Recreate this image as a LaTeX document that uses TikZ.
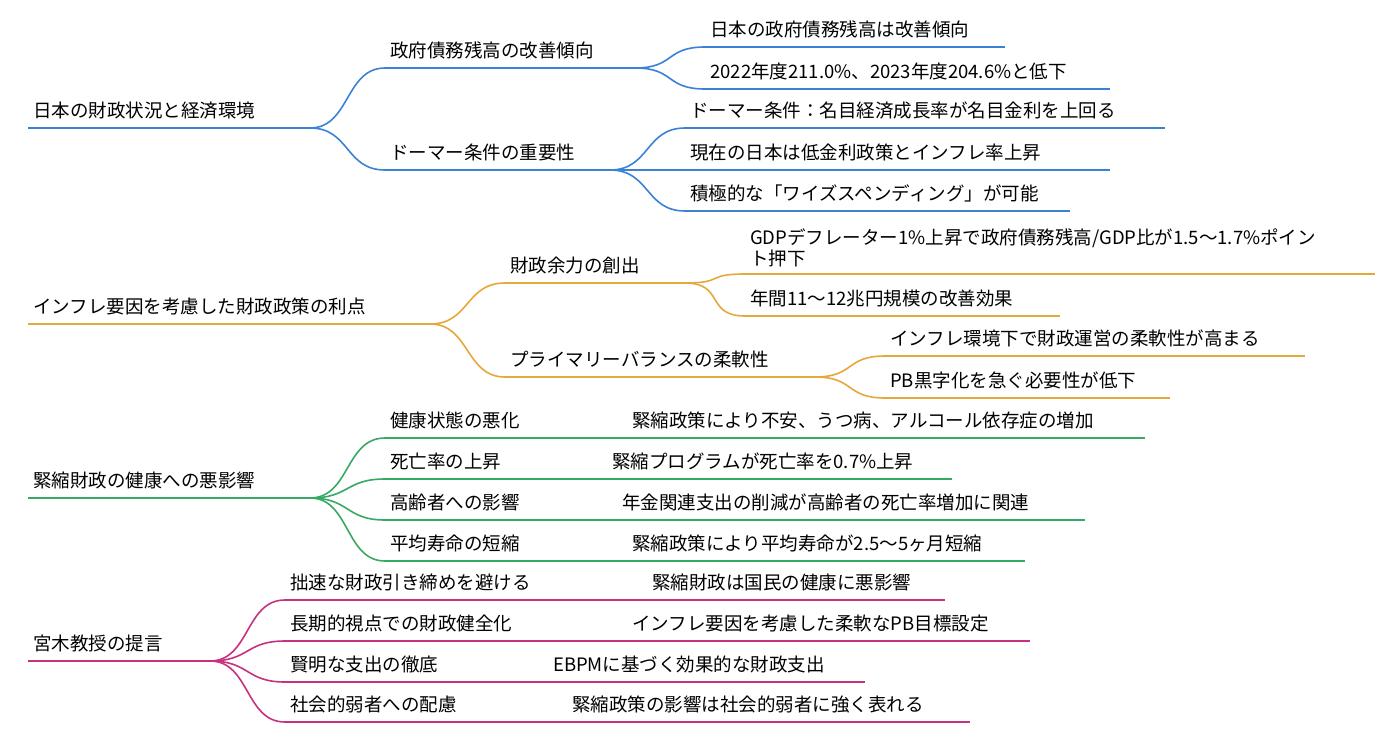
\documentclass[tikz,border=0pt]{standalone}
\usepackage{fontspec}
\setmainfont{Noto Sans CJK JP}
\definecolor{cb}{HTML}{3B82D6}
\definecolor{co}{HTML}{E6A83A}
\definecolor{cg}{HTML}{38A965}
\definecolor{cmag}{HTML}{C8317E}
\tikzset{ul/.style={line width=1.6pt},txt/.style={anchor=south west,inner sep=0pt,font=\fontsize{18.5}{21}\selectfont,text=black},
lk/.style={line width=1.6pt}}
\newcommand{\mmrow}[6]{%
 \coordinate (#1-l) at (#2,#4); \coordinate (#1-r) at (#3,#4);
 \draw[ul,#5] (#1-l) -- (#1-r);
 \node[txt] (#1-t) at (#2+5,#4-9) {#6};}
\newcommand{\mmlink}[3]{\draw[lk,#3] (#1-r) .. controls +(40,0) and +(-40,0) .. (#2-l);}
\begin{document}
\begin{tikzpicture}[x=1pt,y=-1pt]
\fill[white] (0,0) rectangle (1387,736);
\useasboundingbox (0,0) rectangle (1387,736);
% branch 1
\mmrow{a}{28}{310}{128}{cb}{日本の財政状況と経済環境}
\mmrow{a1}{385}{635}{68}{cb}{政府債務残高の改善傾向}
\mmrow{a2}{385}{610}{170}{cb}{ドーマー条件の重要性}
\mmrow{a11}{705}{1005}{47}{cb}{日本の政府債務残高は改善傾向}
\mmrow{a12}{705}{1110}{89}{cb}{2022年度211.0\%、2023年度204.6\%と低下}
\mmrow{a21}{685}{1165}{128}{cb}{ドーマー条件：名目経済成長率が名目金利を上回る}
\mmrow{a22}{685}{1110}{170}{cb}{現在の日本は低金利政策とインフレ率上昇}
\mmrow{a23}{685}{1070}{211}{cb}{積極的な「ワイズスペンディング」が可能}
\mmlink{a}{a1}{cb}\mmlink{a}{a2}{cb}
\mmlink{a1}{a11}{cb}\mmlink{a1}{a12}{cb}
\mmlink{a2}{a21}{cb}\mmlink{a2}{a22}{cb}\mmlink{a2}{a23}{cb}
% branch 2
\mmrow{b}{28}{430}{324}{co}{インフレ要因を考慮した財政政策の利点}
\mmrow{b1}{505}{685}{283}{co}{財政余力の創出}
\mmrow{b2}{505}{815}{377}{co}{プライマリーバランスの柔軟性}
\coordinate (b11-l) at (745,274); \coordinate (b11-r) at (1375,274);
\draw[ul,co] (b11-l) -- (b11-r);
\node[txt,align=left] (b11-t) at (750,267) {GDPデフレーター1\%上昇で政府債務残高/GDP比が1.5〜1.7\%ポイン\\ト押下};
\mmrow{b12}{745}{1060}{316}{co}{年間11〜12兆円規模の改善効果}
\mmrow{b21}{885}{1305}{356}{co}{インフレ環境下で財政運営の柔軟性が高まる}
\mmrow{b22}{885}{1170}{398}{co}{PB黒字化を急ぐ必要性が低下}
\mmlink{b}{b1}{co}\mmlink{b}{b2}{co}
\mmlink{b1}{b11}{co}\mmlink{b1}{b12}{co}
\mmlink{b2}{b21}{co}\mmlink{b2}{b22}{co}
% branch 3
\mmrow{c}{28}{310}{498}{cg}{緊縮財政の健康への悪影響}
\mmrow{c1}{385}{1145}{438}{cg}{健康状態の悪化}
\mmrow{c2}{385}{952}{479}{cg}{死亡率の上昇}
\mmrow{c3}{385}{1085}{520}{cg}{高齢者への影響}
\mmrow{c4}{385}{1025}{561}{cg}{平均寿命の短縮}
\node[txt] (c1x) at (632,429) {緊縮政策により不安、うつ病、アルコール依存症の増加};
\node[txt] (c2x) at (612,470) {緊縮プログラムが死亡率を0.7\%上昇};
\node[txt] (c3x) at (622,511) {年金関連支出の削減が高齢者の死亡率増加に関連};
\node[txt] (c4x) at (632,552) {緊縮政策により平均寿命が2.5〜5ヶ月短縮};
\mmlink{c}{c1}{cg}\mmlink{c}{c2}{cg}\mmlink{c}{c3}{cg}\mmlink{c}{c4}{cg}
% branch 4
\mmrow{d}{28}{210}{661}{cmag}{宮木教授の提言}
\mmrow{d1}{285}{945}{600}{cmag}{拙速な財政引き締めを避ける}
\mmrow{d2}{285}{1030}{641}{cmag}{長期的視点での財政健全化}
\mmrow{d3}{285}{865}{682}{cmag}{賢明な支出の徹底}
\mmrow{d4}{285}{970}{722}{cmag}{社会的弱者への配慮}
\node[txt] (d1x) at (652,591) {緊縮財政は国民の健康に悪影響};
\node[txt] (d2x) at (632,632) {インフレ要因を考慮した柔軟なPB目標設定};
\node[txt] (d3x) at (553,673) {EBPMに基づく効果的な財政支出};
\node[txt] (d4x) at (572,713) {緊縮政策の影響は社会的弱者に強く表れる};
\mmlink{d}{d1}{cmag}\mmlink{d}{d2}{cmag}\mmlink{d}{d3}{cmag}\mmlink{d}{d4}{cmag}
\end{tikzpicture}
\end{document}
